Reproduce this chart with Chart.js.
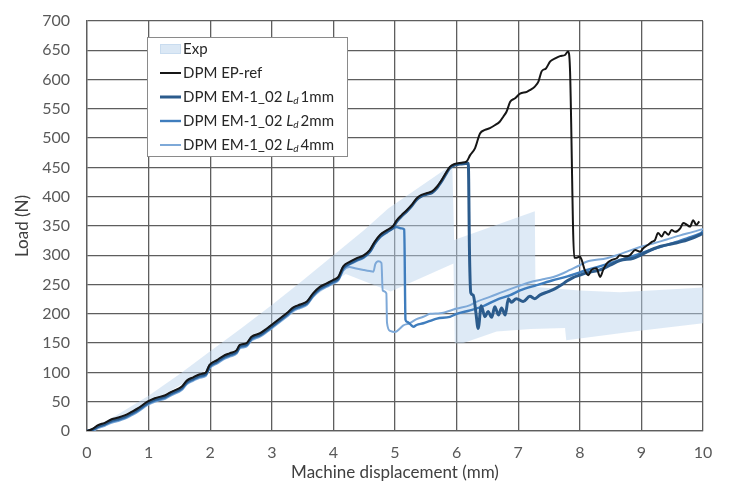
<!DOCTYPE html>
<html><head><meta charset="utf-8">
<script src="https://cdn.jsdelivr.net/npm/chart.js@4/dist/chart.umd.min.js"></script>
<style>html,body{margin:0;padding:0;background:#fff}#wrap{width:732px;height:488px}</style>
</head><body><div id="wrap"><canvas id="c" width="732" height="488"></canvas></div>
<script>
// ---------- DATA ----------
const xTicksMax = 10;
const yTicksMax = 700;

// Experimental envelope (upper and lower bounds)
const expUpperX = [0, 0.5, 1, 1.5, 2, 2.5, 3, 3.5, 4, 4.5, 4.89, 5.93, 5.96, 7.27, 7.28, 8.0, 8.65, 10.0];
const expUpperY = [0, 28, 60, 97, 136, 175, 215, 257, 300, 343, 380, 455, 326, 375, 246, 240, 237, 245];
const expLowerX = [0, 1, 2, 3, 4, 4.2, 4.93, 5.95, 5.97, 6.1, 6.65, 7.2, 7.76, 7.78, 8.87, 10.0];
const expLowerY = [0, 47, 108, 173, 254, 268, 238, 286, 150, 150, 170, 174, 176, 155, 170, 184];

// DPM EP-ref
const refX = [0,0.08,0.18,0.29,0.40,0.51,0.62,0.73,0.83,0.98,1.10,1.27,1.37,1.54,1.62,1.73,1.83,1.93,1.99,2.11,2.21,2.32,2.43,2.48,2.59,2.67,2.81,2.92,3.02,3.13,3.24,3.35,3.46,3.57,3.67,3.78,3.89,4.0,4.08,4.16,4.27,4.38,4.49,4.59,4.67,4.76,4.87,4.97,5.03,5.11,5.19,5.27,5.35,5.43,5.51,5.60,5.68,5.76,5.84,5.89,5.97,6.08,6.16,6.22,6.30,6.38,6.46,6.54,6.62,6.70,6.76,6.81,6.87,6.95,7.03,7.14,7.19,7.27,7.33,7.38,7.45,7.52,7.60,7.68,7.76,7.81,7.84,7.91,7.95,8.0,8.03,8.08,8.14,8.19,8.27,8.33,8.38,8.44,8.52,8.60,8.65,8.73,8.81,8.90,8.98,9.03,9.11,9.17,9.22,9.27,9.33,9.38,9.44,9.49,9.55,9.63,9.68,9.74,9.79,9.84,9.89,9.94];
const refY = [0,3,10,14,20,23,27,33,39,50,56,61,67,76,86,92,97,100,113,121,128,133,138,147,150,161,167,175,183,192,201,211,216,221,235,246,252,258,263,281,289,295,300,309,323,335,343,350,360,369,377,386,397,403,406,409,417,429,443,451,456,458,460,471,483,508,514,517,522,528,537,545,562,568,576,579,582,588,597,614,619,631,636,640,642,648,620,296,296,298,292,275,266,275,278,263,275,286,292,295,300,298,300,309,306,312,318,323,326,338,332,340,335,343,340,346,355,352,349,360,352,358];

// DPM EM-1_02 Ld 1mm
const ld1X = [0,0.08,0.18,0.29,0.40,0.51,0.62,0.73,0.83,0.98,1.10,1.27,1.37,1.54,1.62,1.73,1.83,1.93,1.99,2.11,2.21,2.32,2.43,2.48,2.59,2.67,2.81,2.92,3.02,3.13,3.24,3.35,3.46,3.57,3.67,3.78,3.89,4.0,4.08,4.16,4.27,4.38,4.49,4.59,4.67,4.76,4.87,4.97,5.03,5.11,5.19,5.27,5.35,5.43,5.51,5.60,5.68,5.76,5.84,5.89,5.97,6.08,6.19,6.21,6.23,6.27,6.31,6.35,6.40,6.46,6.51,6.57,6.62,6.68,6.73,6.79,6.84,6.89,6.97,7.08,7.19,7.27,7.35,7.49,7.60,7.71,7.79,7.89,8.0,8.11,8.33,8.49,8.65,8.87,8.98,9.09,9.30,9.52,9.74,9.95,10.0];
const ld1Y = [0,2,8,12,18,21,25,31,37,48,54,59,65,74,84,90,95,98,111,119,126,131,136,145,148,159,165,173,181,190,199,209,214,219,233,244,250,256,261,279,287,293,298,307,321,333,341,348,358,367,375,384,395,401,404,407,415,427,441,449,454,456,457,300,236,232,205,175,214,195,204,194,212,198,210,198,226,220,226,221,230,226,232,238,243,250,256,262,266,270,275,283,291,295,300,306,315,320,326,335,338];

// DPM EM-1_02 Ld 2mm
const ld2X = [0,0.08,0.18,0.29,0.40,0.51,0.62,0.73,0.83,0.98,1.10,1.27,1.37,1.54,1.62,1.73,1.83,1.93,1.99,2.11,2.21,2.32,2.43,2.48,2.59,2.67,2.81,2.92,3.02,3.13,3.24,3.35,3.46,3.57,3.67,3.78,3.89,4.0,4.08,4.16,4.27,4.38,4.49,4.59,4.67,4.76,4.87,4.97,5.03,5.11,5.15,5.17,5.20,5.25,5.30,5.35,5.46,5.57,5.68,5.89,6.0,6.22,6.43,6.65,6.87,7.03,7.30,7.55,7.80,8.0,8.22,8.44,8.65,8.87,9.09,9.30,9.52,9.74,9.95,10.0];
const ld2Y = [0,1,7,11,16,19,23,29,35,46,52,57,63,72,82,88,93,96,109,117,124,129,134,143,146,157,163,171,179,188,197,207,212,217,231,242,248,254,259,277,285,291,296,305,319,331,339,346,348,346,344,190,186,182,178,181,184,188,192,195,200,206,213,224,232,240,249,257,264,271,278,285,292,299,307,314,321,329,337,341];

// DPM EM-1_02 Ld 4mm
const ld4X = [0,0.08,0.18,0.29,0.40,0.51,0.62,0.73,0.83,0.98,1.10,1.27,1.37,1.54,1.62,1.73,1.83,1.93,1.99,2.11,2.21,2.32,2.43,2.48,2.59,2.67,2.81,2.92,3.02,3.13,3.24,3.35,3.46,3.57,3.67,3.78,3.89,4.0,4.08,4.16,4.26,4.35,4.49,4.59,4.65,4.68,4.73,4.78,4.80,4.86,4.87,4.92,5.0,5.08,5.13,5.24,5.35,5.46,5.57,5.73,6.0,6.22,6.33,6.54,6.76,6.97,7.19,7.40,7.57,7.70,7.84,8.0,8.11,8.44,8.60,8.81,9.0,9.19,9.41,9.63,9.84,10.0];
const ld4Y = [0,0,5,9,14,17,21,27,33,44,50,55,61,70,80,86,91,94,107,115,122,127,132,141,144,155,161,169,177,186,195,205,210,215,229,240,246,252,257,274,280,278,275,273,272,285,290,287,240,235,185,171,169,175,180,184,191,195,200,201,209,215,221,229,238,246,254,259,263,268,275,283,289,295,300,308,315,320,327,334,340,345];

const seriesLabels = ['Exp', 'DPM EP-ref', 'DPM EM-1_02 Ld 1mm', 'DPM EM-1_02 Ld 2mm', 'DPM EM-1_02 Ld 4mm'];

// ---------- BUILD ----------
const pts = (xs, ys) => xs.map((x, i) => ({x, y: ys[i]}));
const expPoly = pts(expUpperX, expUpperY).concat(pts(expLowerX, expLowerY).reverse());

const FONT = 'Lato, "Open Sans", sans-serif';
const GRID = '#5e5e5e';
const bandFill = 'rgba(186,212,236,0.48)';
const colors = ['#dbe8f5', '#161616', '#2b5b8c', '#3f7dbd', '#7ea9d8'];
const widths = [0, 2, 3, 2.4, 2];

const legendPlugin = {
  id: 'boxLegend',
  afterDatasetsDraw(chart) {
    const c = chart.ctx;
    const bx = 147, by = 37, bw = 200, bh = 119;
    c.save();
    c.fillStyle = '#fff';
    c.fillRect(bx, by, bw, bh);
    c.strokeStyle = '#8a8a8a';
    c.lineWidth = 1;
    c.strokeRect(bx + 0.5, by + 0.5, bw, bh);
    const rowY0 = 49, dy = 24;
    chart.data.datasets.forEach((ds, i) => {
      const yy = rowY0 + dy * i;
      if (i === 0) {
        c.fillStyle = '#dbe8f5';
        c.fillRect(160, yy - 5, 21, 10);
        c.strokeStyle = '#c9dcef';
        c.strokeRect(160.5, yy - 4.5, 20, 9);
      } else {
        c.strokeStyle = ds.borderColor;
        c.lineWidth = ds.borderWidth;
        c.beginPath(); c.moveTo(160, yy); c.lineTo(181, yy); c.stroke();
      }
      c.fillStyle = '#262626';
      c.textBaseline = 'middle';
      c.textAlign = 'left';
      let x = 183;
      const label = ds.label;
      const k = label.indexOf(' Ld ');
      if (k < 0) {
        c.font = '15px ' + FONT;
        c.fillText(label, x, yy);
      } else {
        const a = label.slice(0, k + 1), b = label.slice(k + 4);
        c.font = '15px ' + FONT;
        c.fillText(a, x, yy); x += c.measureText(a).width;
        c.font = 'italic 15px ' + FONT;
        c.fillText('L', x, yy); x += c.measureText('L').width;
        c.font = 'italic 10px ' + FONT;
        c.fillText('d', x, yy + 4); x += c.measureText('d').width + 2;
        c.font = '15px ' + FONT;
        c.fillText(b, x, yy);
      }
    });
    c.restore();
  }
};

const lineDs = (i, xs, ys, order) => ({
  label: seriesLabels[i], data: pts(xs, ys), borderColor: colors[i], borderWidth: widths[i],
  pointRadius: 0, fill: false, cubicInterpolationMode: 'monotone', order
});

new Chart(document.getElementById('c'), {
  type: 'line',
  data: {
    datasets: [
      { label: seriesLabels[0], data: expPoly, borderWidth: 0, borderColor: 'rgba(0,0,0,0)', backgroundColor: bandFill, fill: 'shape', pointRadius: 0, tension: 0, order: 5 },
      lineDs(1, refX, refY, 1),
      lineDs(2, ld1X, ld1Y, 2),
      lineDs(3, ld2X, ld2Y, 3),
      lineDs(4, ld4X, ld4Y, 4)
    ]
  },
  options: {
    responsive: false,
    animation: false,
    events: [],
    layout: { padding: { top: 21, right: 29, left: 0, bottom: 0 } },
    scales: {
      x: {
        type: 'linear', min: 0, max: xTicksMax,
        ticks: { stepSize: 1, padding: 12, color: '#595959', font: { family: FONT, size: 16 } },
        grid: { color: GRID, lineWidth: 1.3, drawTicks: false },
        border: { display: true, color: GRID, width: 1.3 },
        title: { display: true, text: 'Machine displacement (mm)', color: '#404040', font: { family: FONT, size: 17 }, padding: { top: 0, bottom: 5 } },
        afterFit(s) { s.height = 57; }
      },
      y: {
        type: 'linear', min: 0, max: yTicksMax,
        ticks: { stepSize: 50, padding: 2, color: '#595959', font: { family: FONT, size: 16 } },
        grid: { color: GRID, lineWidth: 1.3, drawTicks: true, tickLength: 15, tickColor: 'rgba(0,0,0,0)' },
        border: { display: true, color: GRID, width: 1.3 },
        title: { display: true, text: 'Load (N)', color: '#404040', font: { family: FONT, size: 17 }, padding: { top: 12, bottom: 0 } },
        afterFit(s) { s.width = 87; }
      }
    },
    plugins: { legend: { display: false }, tooltip: { enabled: false } }
  },
  plugins: [legendPlugin]
});
</script></body></html>
